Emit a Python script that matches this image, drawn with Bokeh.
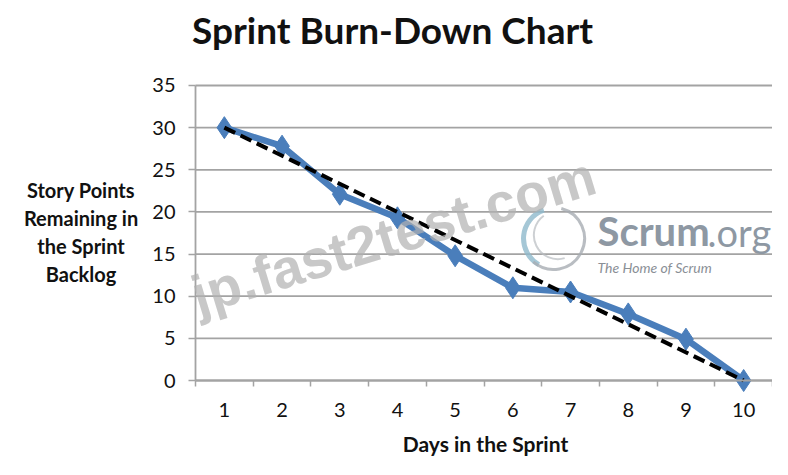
from bokeh.plotting import figure
from bokeh.models import Label, FixedTicker, Range1d
from bokeh.embed import file_html
from bokeh.resources import INLINE

# ---- data ----
days = [1, 2, 3, 4, 5, 6, 7, 8, 9, 10]
actual_remaining = [30, 27.8, 22.1, 19.3, 14.8, 11.0, 10.5, 7.9, 4.9, 0]
ideal_days = [1, 10]
ideal_remaining = [30, 0]
y_ticks = [0, 5, 10, 15, 20, 25, 30, 35]
x_bounds = [d - 0.5 for d in days] + [days[-1] + 0.5]
title_text = "Sprint Burn-Down Chart"
x_title = "Days in the Sprint"
y_title_lines = ["Story Points", "Remaining in", "the Sprint", "Backlog"]

FONT = "Lato"
GRID = "#a3a3a3"
BLUE = "#4a7ebb"
TXT = "#111111"

W, H = 772, 459
# frame fills the whole canvas; axes sit at fixed data locations
PX_X = 57.7     # pixels per day
PX_Y = 8.4286   # pixels per story point
X0_PX, Y0_PX = 195, 380  # pixel position of (0.5, 0)
x_start = x_bounds[0] - X0_PX / PX_X
x_end = x_bounds[0] + (W - X0_PX) / PX_X
y_end = (Y0_PX) / PX_Y
y_start = -(H - Y0_PX) / PX_Y

p = figure(width=W, height=H, output_backend="svg", toolbar_location=None,
           x_range=Range1d(x_start, x_end), y_range=Range1d(y_start, y_end),
           min_border=0, min_border_left=0, min_border_right=0,
           min_border_top=0, min_border_bottom=0)
p.outline_line_color = None
p.background_fill_color = "white"
p.border_fill_color = "white"
p.xgrid.visible = False
p.ygrid.visible = False

# x axis
xa = p.xaxis[0]
xa.fixed_location = 0
xa.bounds = (x_bounds[0], x_bounds[-1])
xa.ticker = FixedTicker(ticks=days, minor_ticks=x_bounds)
xa.major_tick_line_color = None
xa.major_tick_out = 0
xa.major_tick_in = 0
xa.minor_tick_out = 6
xa.minor_tick_in = 0
xa.minor_tick_line_color = GRID
xa.minor_tick_line_width = 1.5
xa.axis_line_color = GRID
xa.axis_line_width = 1.8
xa.major_label_text_font = FONT
xa.major_label_text_font_size = "20px"
xa.major_label_text_color = TXT
xa.major_label_standoff = 16

# y axis
ya = p.yaxis[0]
ya.fixed_location = x_bounds[0]
ya.bounds = (y_ticks[0], y_ticks[-1])
ya.ticker = FixedTicker(ticks=y_ticks, minor_ticks=[])
ya.major_tick_out = 7
ya.major_tick_in = 0
ya.major_tick_line_color = GRID
ya.major_tick_line_width = 1.5
ya.axis_line_color = GRID
ya.axis_line_width = 1.8
ya.major_label_text_font = FONT
ya.major_label_text_font_size = "20px"
ya.major_label_text_color = TXT
ya.major_label_standoff = 13

# horizontal grid lines across the plot area
n = len(y_ticks)
p.segment(x0=[x_bounds[0]] * n, x1=[x_bounds[-1]] * n, y0=y_ticks, y1=y_ticks,
          line_color=GRID, line_width=1.8)

# logo swirl
p.arc(x=[6.705], y=[16.85], radius=30, radius_units="screen", start_angle=1.9, end_angle=4.2,
      line_color="#8fb9cc", line_width=5, line_alpha=0.8)
p.arc(x=[6.705], y=[16.85], radius=31, radius_units="screen", start_angle=4.0, end_angle=7.6,
      line_color="#a8adb3", line_width=3, line_alpha=0.8)
p.arc(x=[6.78], y=[17.25], radius=24, radius_units="screen", start_angle=2.2, end_angle=5.0,
      line_color="#b8bcc0", line_width=2, line_alpha=0.7)

# series
p.line(days, actual_remaining, line_color=BLUE, line_width=6.5)
p.scatter(days, actual_remaining, marker="diamond", size=22, fill_color=BLUE, line_color=BLUE)
p.line(ideal_days, ideal_remaining, line_color="black", line_width=4, line_dash="12 6")

# logo text & watermark
p.add_layout(Label(x=7.467, y=17.7, text="Scrum", text_font=FONT, text_font_size="40px",
                   text_color="#8e98a3", text_font_style="bold", text_baseline="alphabetic"))
p.add_layout(Label(x=9.373, y=17.6, text=".org", text_font=FONT, text_font_size="38px",
                   text_color="#8e98a3", text_baseline="alphabetic"))
p.add_layout(Label(x=7.467, y=13.41, text="The Home of Scrum", text_font=FONT,
                   text_font_size="14px", text_font_style="italic", text_color="#8a8f96",
                   text_baseline="middle"))
p.add_layout(Label(x=3.93, y=17.2, text="jp.fast2test.com", text_font="Liberation Sans",
                   text_font_style="bold", text_font_size="55px", text_color="#b0b0b0",
                   text_alpha=0.7, angle=17, angle_units="deg",
                   text_align="center", text_baseline="middle"))

# titles
p.add_layout(Label(x=3.914, y=41.64, text=title_text, text_font=FONT,
                   text_font_style="bold", text_font_size="37px", text_color=TXT,
                   text_align="center", text_baseline="alphabetic"))
p.add_layout(Label(x=5.526, y=-7.47, text=x_title, text_font=FONT,
                   text_font_style="bold", text_font_size="21px", text_color=TXT,
                   text_align="center", text_baseline="alphabetic"))
for line_text, yy in zip(y_title_lines, [22.61, 19.29, 15.97, 12.65]):
    p.add_layout(Label(x=-1.484, y=yy, text=line_text, text_font=FONT,
                       text_font_style="bold", text_font_size="20px", text_color=TXT,
                       text_align="center", text_baseline="alphabetic"))

open("out.html", "w").write(file_html(p, INLINE))
